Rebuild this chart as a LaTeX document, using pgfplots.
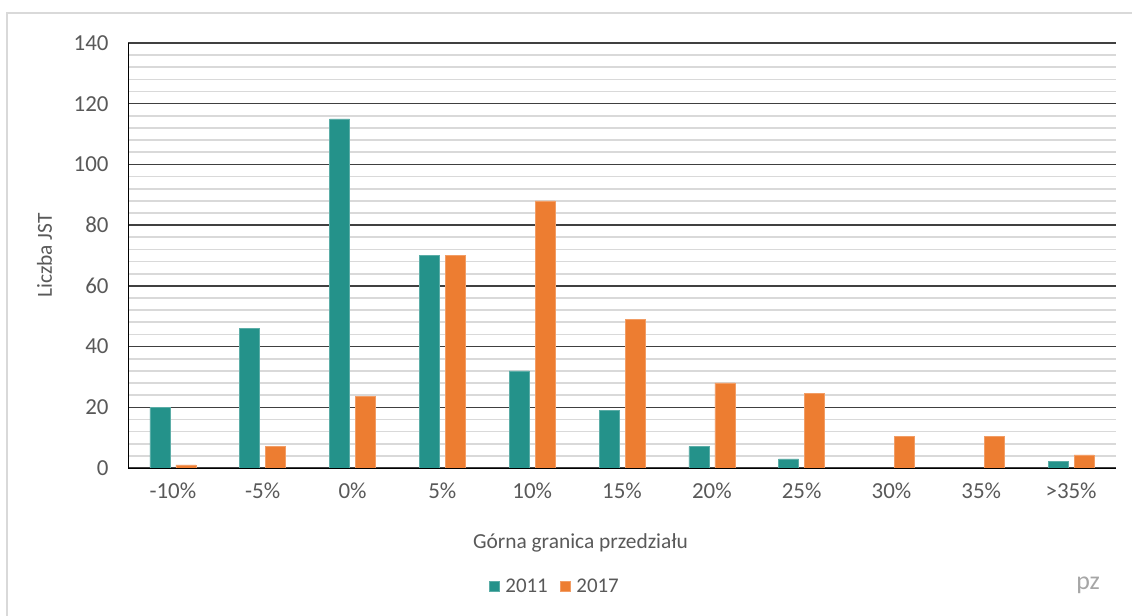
\documentclass[border=0pt]{standalone}
\usepackage{pgfplots}
\pgfplotsset{compat=1.18}
\usepackage{fontspec}
\setmainfont{Carlito}
\definecolor{txt}{HTML}{595959}
\definecolor{pztxt}{HTML}{A6A6A6}
\definecolor{c2011}{RGB}{36,146,138}
\definecolor{c2017}{RGB}{237,125,49}
\definecolor{majgrid}{HTML}{404040}
\definecolor{mingrid}{HTML}{D9D9D9}
\definecolor{frame}{HTML}{D9D9D9}

\begin{document}
\begin{tikzpicture}
\useasboundingbox (0,0) rectangle (1132bp,616bp);
\fill[white] (0,0) rectangle (1132bp,616bp);
\draw[frame, line width=1.5bp] (7bp,-10bp) rectangle (1145bp,603bp);
\begin{axis}[
  at={(128bp,148bp)}, anchor=south west,
  scale only axis, width=988bp, height=425bp,
  xmin=-0.5, xmax=10.5, ymin=0, ymax=140,
  axis lines=none,
  ybar=6bp, bar width=20bp,
  xtick={0,...,10},
  xticklabels={-10\%,-5\%,0\%,5\%,10\%,15\%,20\%,25\%,30\%,35\%,>35\%},
  ytick={0,20,...,140},
  minor y tick num=4,
  ymajorgrids, yminorgrids,
  major grid style={majgrid, line width=1.3bp},
  minor grid style={mingrid, line width=1.7bp},
  hide x axis=false, hide y axis=false,
  /pgf/number format/assume math mode=true,
  tick label style={font=\fontsize{23}{27}\selectfont, text=txt},
  xticklabel style={yshift=-11bp},
  yticklabel style={xshift=-16bp},
  major tick length=0pt, minor tick length=0pt,
  xlabel={Górna granica przedziału},
  ylabel={Liczba JST},
  label style={font=\fontsize{21.5}{25}\selectfont, text=txt},
  xlabel style={at={(axis description cs:0.458,-0.176)}, anchor=center},
  ylabel style={at={(axis description cs:-0.0845,0.5)}, anchor=center},
  legend columns=2,
  legend style={draw=none, fill=none, font=\fontsize{21}{25}\selectfont, text=txt,
    at={(axis description cs:0.432,-0.278)}, anchor=center,
    /tikz/every odd column/.append style={column sep=4bp},
    /tikz/every even column/.append style={column sep=10bp}},
  legend image code/.code={\fill[#1] (0bp,-5bp) rectangle (10bp,5bp);},
]
\addplot[fill=c2011, draw=c2011!75!white, line width=0.6bp] coordinates {
  (0,20) (1,46) (2,115) (3,70) (4,32) (5,19) (6,7) (7,3) (8,0) (9,0) (10,2.3)};
\addplot[fill=c2017, draw=c2017!75!white, line width=0.6bp] coordinates {
  (0,1) (1,7) (2,23.5) (3,70) (4,88) (5,49) (6,28) (7,24.5) (8,10.5) (9,10.5) (10,4.3)};
\legend{2011,2017}
\end{axis}
\node[anchor=center, text=pztxt, font=\fontsize{26}{30}\selectfont] at (1088bp,31bp) {pz};
\end{tikzpicture}
\end{document}
